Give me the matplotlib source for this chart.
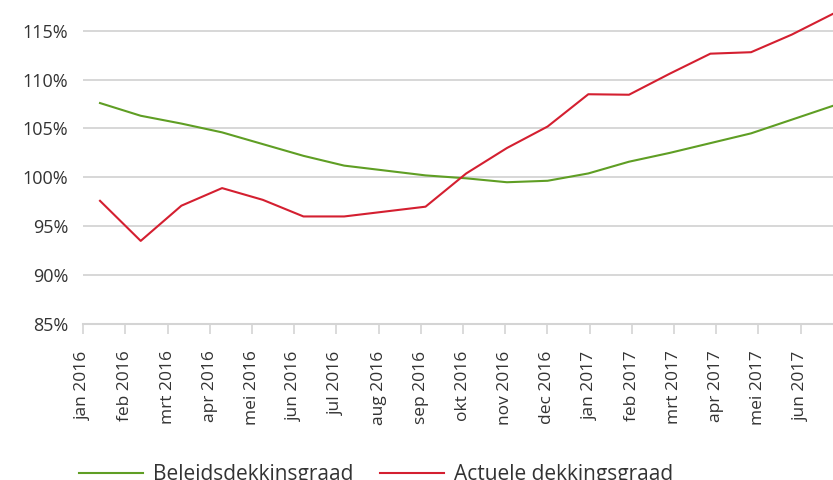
import numpy as np
import matplotlib
matplotlib.use('Agg')
import matplotlib.pyplot as plt

plt.rcParams['font.family'] = ['Open Sans', 'DejaVu Sans']

# Maandlabels op de x-as (jul 2017 valt in de bron buiten beeld)
months = ['jan 2016', 'feb 2016', 'mrt 2016', 'apr 2016', 'mei 2016', 'jun 2016',
          'jul 2016', 'aug 2016', 'sep 2016', 'okt 2016', 'nov 2016', 'dec 2016',
          'jan 2017', 'feb 2017', 'mrt 2017', 'apr 2017', 'mei 2017', 'jun 2017',
          'jul 2017']

# Dekkingsgraden in procenten, jan 2016 t/m jul 2017
beleids = [107.6, 106.3, 105.5, 104.6, 103.4, 102.2, 101.2, 100.7, 100.2, 99.9,
           99.5, 99.65, 100.4, 101.6, 102.5, 103.5, 104.5, 105.9, 107.3]
actueel = [97.6, 93.5, 97.1, 98.9, 97.7, 96.0, 96.0, 96.5, 97.0, 100.4,
           103.0, 105.2, 108.5, 108.45, 110.6, 112.65, 112.8, 114.6, 116.7]

green = '#5f9e24'
red = '#d41f30'
grid = '#d4d4d4'
text = '#333333'

fig = plt.figure(figsize=(8.33, 4.8), dpi=100)
ax = fig.add_axes([0.1, 0.325, 0.9, 0.675])

# lijnen staan in de bron iets smaller dan de categorie-indeling
x = 0.396 + np.arange(len(beleids)) * 0.9645
ax.plot(x, beleids, color=green, lw=1.5, label='Beleidsdekkinsgraad')
ax.plot(x, actueel, color=red, lw=1.5, label='Actuele dekkingsgraad')

ax.set_ylim(85, 118.14)
ax.set_xlim(0, 17.77)
ax.set_yticks(np.arange(85, 116, 5))
ax.set_yticklabels([f'{v}%' for v in range(85, 116, 5)])
shown = months[:-1]
ax.set_xticks(np.arange(len(shown)))
ax.set_xticklabels(shown, rotation=90)

ax.grid(axis='y', color=grid, lw=1.3)
ax.set_axisbelow(True)
for s in ['top', 'right', 'left']:
    ax.spines[s].set_visible(False)
ax.spines['bottom'].set_color(grid)
ax.spines['bottom'].set_linewidth(1.5)
ax.tick_params(axis='y', length=0, pad=11, labelsize=13, labelcolor=text)
ax.tick_params(axis='x', length=7, width=1.2, color=grid, pad=12,
               labelsize=12.5, labelcolor=text)

fig.legend(loc='upper left', bbox_to_anchor=(0.072, 0.072), ncol=2, frameon=False,
           fontsize=15, handlelength=3.1, handletextpad=0.48, columnspacing=1.25,
           labelcolor=text)

fig.savefig('out.png', dpi=100)
